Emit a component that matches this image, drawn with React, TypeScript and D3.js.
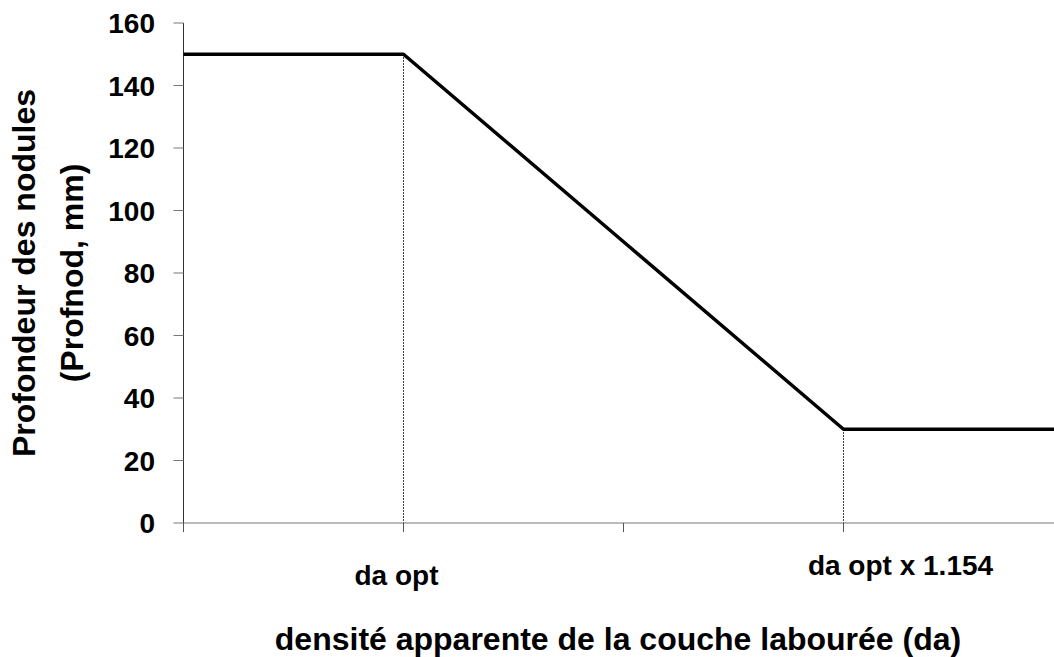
import * as React from "react";
import * as d3 from "d3";

// category positions along the x axis (one per tick)
const positions = [0, 1, 2, 3, 4];
const depth = [150, 150, 90, 30, 30];
const yTicks = [0, 20, 40, 60, 80, 100, 120, 140, 160];
const markers = [
  { pos: 1, label: "da opt" },
  { pos: 3, label: "da opt x 1.154" },
];

const W = 1054;
const H = 657;
const FONT = "'Liberation Sans', Arial, Helvetica, sans-serif";

export default function App() {
  const x = d3.scaleLinear().domain([0, 4]).range([183.5, 1063.5]);
  const y = d3.scaleLinear().domain([0, 160]).range([523, 23]);

  const line = d3
    .line<number>()
    .x((_, i) => x(positions[i]))
    .y((d) => y(d));

  const labelOffset: Record<string, [number, number]> = {
    "da opt": [-7, 62],
    "da opt x 1.154": [57, 52],
  };

  return (
    <svg width={W} height={H} style={{ display: "block", position: "absolute", left: 0, top: 0 }}>
      <rect width={W} height={H} fill="#fff" />

      {/* dotted drop lines */}
      {markers.map((m) => {
        const i = positions.indexOf(m.pos);
        return (
          <line
            key={m.label}
            x1={x(m.pos)}
            x2={x(m.pos)}
            y1={y(depth[i])}
            y2={y(0)}
            stroke="#000"
            strokeWidth={1}
            strokeDasharray="1.5,1.5"
          />
        );
      })}

      {/* y axis */}
      <line x1={x(0)} x2={x(0)} y1={y(160)} y2={y(0) + 9} stroke="#333" strokeWidth={1} />
      {yTicks.map((t) => (
        <g key={t}>
          <line x1={x(0) - 10} x2={x(0)} y1={y(t)} y2={y(t)} stroke="#777" strokeWidth={1} />
          <text
            x={155}
            y={y(t)}
            dy="0.36em"
            textAnchor="end"
            fontFamily={FONT}
            fontWeight="bold"
            fontSize={28}
          >
            {t}
          </text>
        </g>
      ))}

      {/* x axis */}
      <line x1={x(0)} x2={W} y1={y(0)} y2={y(0)} stroke="#777" strokeWidth={1} />
      {positions.map((p) => (
        <line key={p} x1={x(p)} x2={x(p)} y1={y(0)} y2={y(0) + 9} stroke="#555" strokeWidth={1} />
      ))}

      {markers.map((m) => (
        <text
          key={m.label}
          x={x(m.pos) + labelOffset[m.label][0]}
          y={y(0) + labelOffset[m.label][1]}
          textAnchor="middle"
          fontFamily={FONT}
          fontWeight="bold"
          fontSize={28}
        >
          {m.label}
        </text>
      ))}

      {/* data line */}
      <path d={line(depth) ?? ""} fill="none" stroke="#000" strokeWidth={3.5} strokeLinejoin="round" />

      {/* axis titles */}
      <text
        x={618}
        y={650}
        textAnchor="middle"
        fontFamily={FONT}
        fontWeight="bold"
        fontSize={32}
      >
        densité apparente de la couche labourée (da)
      </text>
      <g transform={`translate(35, ${(y(0) + y(160)) / 2}) rotate(-90)`}>
        <text textAnchor="middle" fontFamily={FONT} fontWeight="bold" fontSize={32}>
          <tspan x={0} y={0}>Profondeur des nodules</tspan>
          <tspan x={0} y={48}>(Profnod, mm)</tspan>
        </text>
      </g>
    </svg>
  );
}
